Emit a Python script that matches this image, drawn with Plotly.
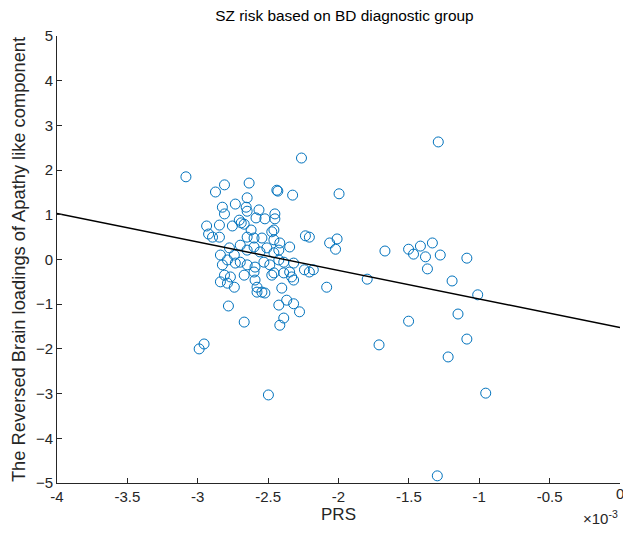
import plotly.graph_objects as go

# PRS values in units of 1e-3
prs = [
    -3.084, -2.874, -2.810, -2.635, -2.438, -2.431, -2.326, -2.263, -1.996,
    -2.825, -2.810, -2.733, -2.649, -2.656, -2.649, -2.565, -2.452, -2.452,
    -2.937, -2.846, -2.754, -2.705, -2.691, -2.670, -2.586, -2.523, -2.459,
    -2.621, -2.235, -2.207, -2.010,
    -2.923, -2.895, -2.846, -2.649, -2.600, -2.544, -2.474, -2.459, -2.417,
    -2.347, -2.839, -2.775, -2.740, -2.698, -2.649, -2.600, -2.558, -2.509,
    -2.459, -2.424, -2.389, -2.319, -2.825, -2.789, -2.733, -2.698, -2.649,
    -2.593, -2.530, -2.488, -2.424, -2.810, -2.768, -2.839, -2.789, -2.740,
    -2.670, -2.600, -2.593, -2.579, -2.579, -2.544, -2.523, -2.474, -2.459,
    -2.389, -2.347, -2.333, -2.319, -2.242, -2.207, -2.179, -2.403, -2.782,
    -2.670, -2.424, -2.368, -2.319, -2.277, -2.389, -2.417,
    -2.063, -2.021, -1.670, -1.502, -1.467, -1.418, -1.333, -1.382, -1.277,
    -1.368, -1.088, -1.193, -1.011, -1.796, -2.084, -1.151, -1.502, -1.088,
    -1.712, -1.221, -0.954, -1.298, -1.291,
    -2.990, -2.955, -2.498,
]
loadings = [
    1.85, 1.51, 1.67, 1.71, 1.55, 1.53, 1.44, 2.27, 1.47,
    1.17, 1.02, 1.24, 1.38, 1.17, 1.08, 1.11, 1.02, 0.91,
    0.75, 0.77, 0.75, 0.88, 0.82, 0.79, 0.93, 0.91, 0.66,
    0.66, 0.53, 0.50, 0.46,
    0.57, 0.50, 0.50, 0.50, 0.48, 0.48, 0.62, 0.44, 0.37,
    0.28, 0.10, 0.26, 0.10, 0.32, 0.21, 0.28, 0.17, 0.26,
    0.15, 0.21, -0.06, -0.08, -0.12, -0.01, -0.08, -0.06, -0.12,
    -0.17, -0.06, -0.12, -0.01, -0.35, -0.39, -0.50, -0.53, -0.62,
    -0.35, -0.28, -0.46, -0.62, -0.73, -0.73, -0.75, -0.35, -0.30,
    -0.30, -0.28, -0.39, -0.46, -0.23, -0.28, -0.23, -0.64, -1.04,
    -1.40, -1.02, -0.91, -0.99, -1.17, -1.31, -1.47,
    0.37, 0.23, 0.19, 0.23, 0.12, 0.30, 0.37, 0.06, 0.10,
    -0.21, 0.03, -0.48, -0.79, -0.44, -0.62, -1.22, -1.38, -1.78,
    -1.91, -2.18, -2.99, -4.84, 2.63,
    -2.00, -1.89, -3.03,
]

fit_x = [-4.0, 0.0]
fit_y = [1.03, -1.52]

x_ticks = [-4, -3.5, -3, -2.5, -2, -1.5, -1, -0.5, 0]
x_tick_labels = ["-4", "-3.5", "-3", "-2.5", "-2", "-1.5", "-1", "-0.5", "0"]
y_ticks = [-5, -4, -3, -2, -1, 0, 1, 2, 3, 4, 5]

blue = "#0072BD"
axis_col = "#262626"
font_family = "Liberation Sans, Arial, sans-serif"

# the tick label at the right end of the x axis is drawn as an annotation
axis_labels = x_tick_labels[:-1] + [""]

fig = go.Figure()
fig.add_trace(go.Scatter(
    x=prs, y=loadings, mode="markers",
    marker=dict(symbol="circle-open", size=10, color=blue, line=dict(width=1, color=blue)),
    showlegend=False, cliponaxis=False,
))
fig.add_trace(go.Scatter(
    x=fit_x, y=fit_y, mode="lines",
    line=dict(color="black", width=1.5), showlegend=False,
))

fig.update_layout(
    width=623, height=523,
    margin=dict(l=49, r=11, t=28, b=48, autoexpand=False),
    paper_bgcolor="white", plot_bgcolor="white",
    font=dict(family=font_family, size=15, color=axis_col),
    title=dict(text="SZ risk based on BD diagnostic group", x=0.54, xanchor="center",
               y=1 - 8.0 / 523, yref="container", yanchor="middle",
               font=dict(size=15.4, color="black")),
    xaxis=dict(
        range=[-4, 0], tickvals=x_ticks, ticktext=axis_labels, automargin=False,
        showgrid=False, zeroline=False, showline=True, linecolor=axis_col, linewidth=1,
        ticks="inside", ticklen=5, tickcolor=axis_col, tickfont=dict(size=15, color=axis_col),
        ticklabeloverflow="allow",
        title=dict(text="PRS", font=dict(size=17, color=axis_col), standoff=2),
    ),
    yaxis=dict(
        range=[-5, 5], tickvals=y_ticks, automargin=False,
        showgrid=False, zeroline=False, showline=True, linecolor=axis_col, linewidth=1,
        ticks="inside", ticklen=5, tickcolor=axis_col, tickfont=dict(size=15, color=axis_col),
        ticklabeloverflow="allow",
        title=dict(text="The Reversed Brain loadings of Apathy like component",
                   font=dict(size=18.3, color=axis_col), standoff=7),
    ),
    annotations=[
        dict(text=x_tick_labels[-1], x=x_ticks[-1], xref="x", y=-0.0246, yref="paper",
             xanchor="center", yanchor="middle", showarrow=False,
             font=dict(size=15, color=axis_col)),
        dict(text="×10<sup>-3</sup>", x=1.0, xref="paper", y=-0.052, yref="paper",
             xanchor="right", yanchor="top", showarrow=False,
             font=dict(size=15, color=axis_col)),
    ],
)

fig.write_html("out.html")
